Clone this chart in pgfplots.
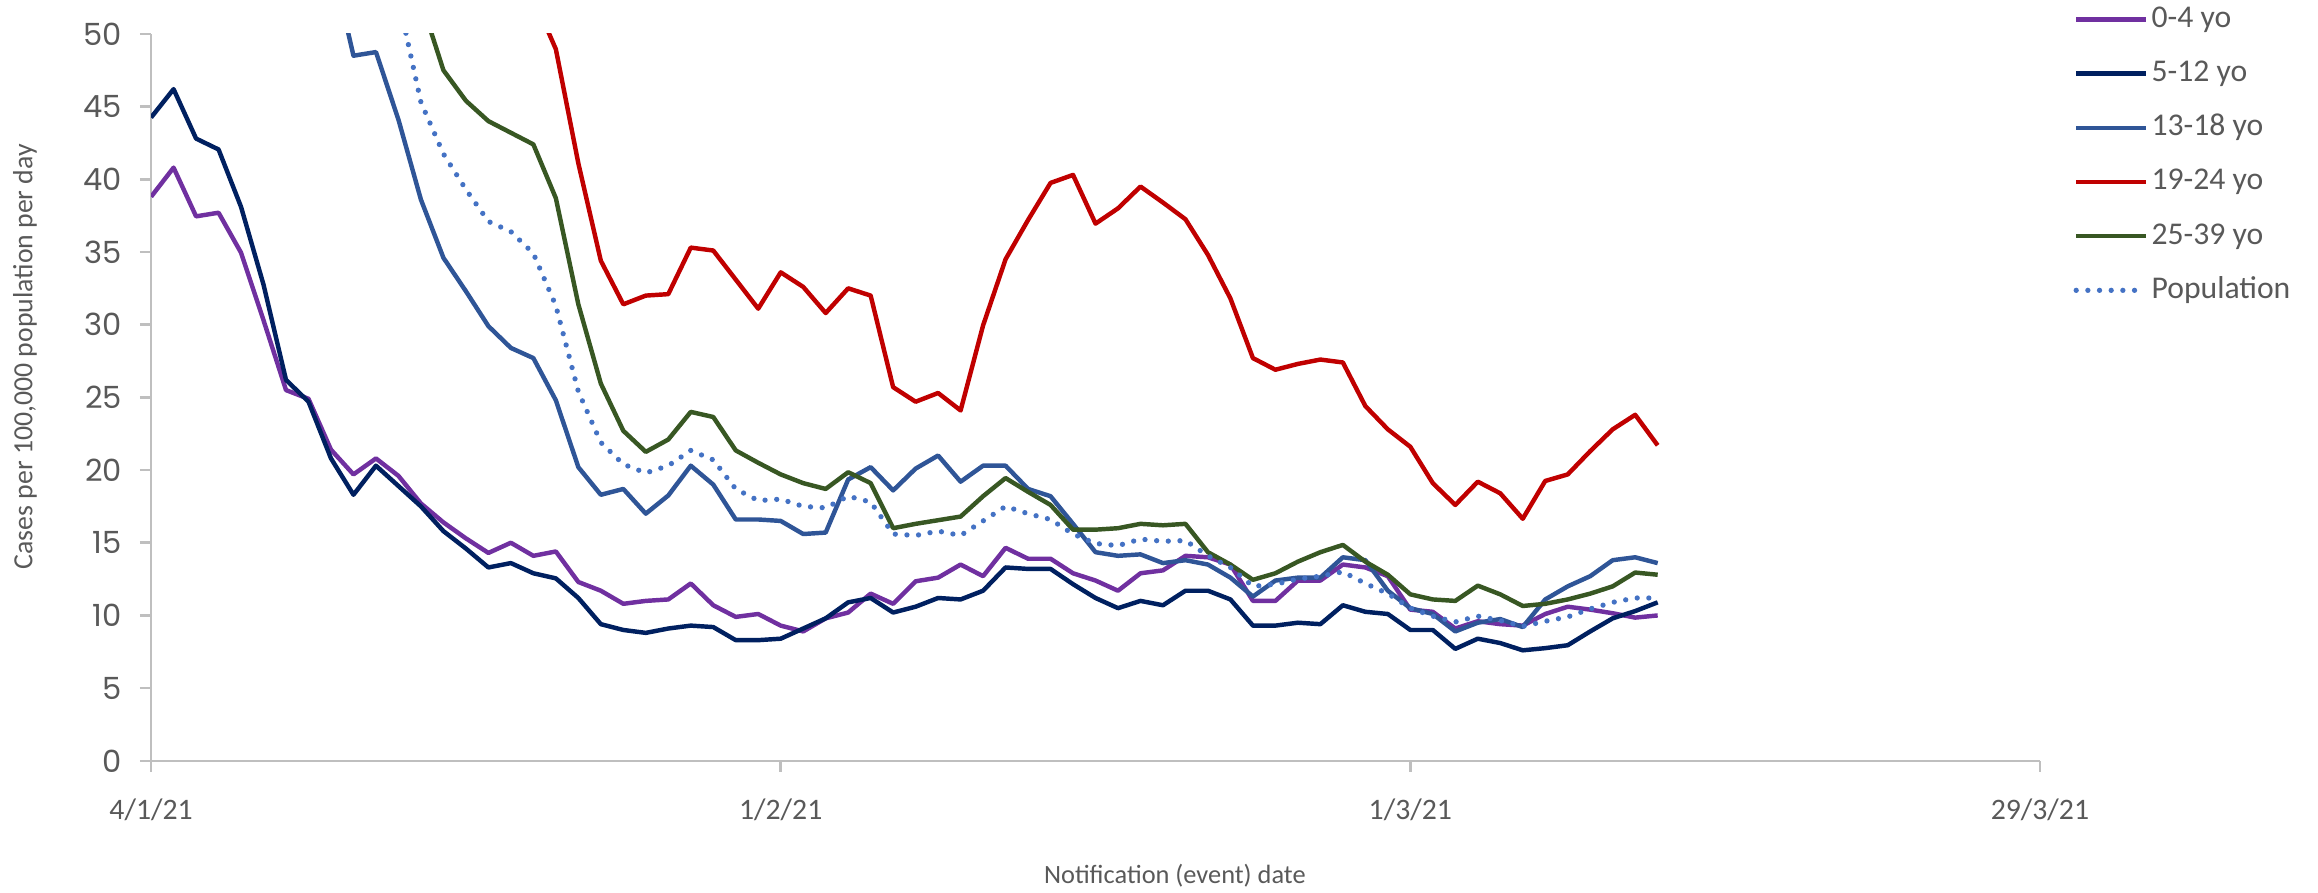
\documentclass[border=0pt]{standalone}
\usepackage{fontspec}
\setmainfont{Carlito}
\newfontfamily\tickfont{Poppins}
\usepackage{pgfplots}
\pgfplotsset{compat=1.18}
\usepackage{pgfplotstable}
\definecolor{cA}{HTML}{7030A0}
\definecolor{cB}{HTML}{002060}
\definecolor{cC}{HTML}{2F5597}
\definecolor{cD}{HTML}{C00000}
\definecolor{cE}{HTML}{385723}
\definecolor{cP}{HTML}{4472C4}
\definecolor{txt}{HTML}{595959}
\definecolor{axgray}{HTML}{BFBFBF}

\pgfplotstableread{
d v
0 38.8
1 40.8
2 37.45
3 37.7
4 34.95
5 30.3
6 25.5
7 24.9
8 21.4
9 19.7
10 20.8
11 19.6
12 17.7
13 16.4
14 15.3
15 14.3
16 15.0
17 14.1
18 14.4
19 12.3
20 11.7
21 10.8
22 11.0
23 11.1
24 12.2
25 10.7
26 9.9
27 10.1
28 9.3
29 8.9
30 9.8
31 10.2
32 11.5
33 10.8
34 12.35
35 12.6
36 13.5
37 12.7
38 14.65
39 13.9
40 13.9
41 12.9
42 12.4
43 11.7
44 12.9
45 13.1
46 14.1
47 14.0
48 13.5
49 11.0
50 11.0
51 12.4
52 12.4
53 13.5
54 13.3
55 12.7
56 10.4
57 10.25
58 9.1
59 9.6
60 9.4
61 9.3
62 10.1
63 10.6
64 10.4
65 10.15
66 9.85
67 10.0
}\tA

\pgfplotstableread{
d v
0 44.25
1 46.2
2 42.8
3 42.05
4 38.1
5 32.75
6 26.2
7 24.7
8 20.8
9 18.3
10 20.3
11 18.9
12 17.5
13 15.8
14 14.6
15 13.3
16 13.6
17 12.9
18 12.55
19 11.2
20 9.4
21 9.0
22 8.8
23 9.1
24 9.3
25 9.2
26 8.3
27 8.3
28 8.4
29 9.1
30 9.8
31 10.9
32 11.2
33 10.2
34 10.6
35 11.2
36 11.1
37 11.7
38 13.3
39 13.2
40 13.2
41 12.15
42 11.2
43 10.5
44 11.0
45 10.7
46 11.7
47 11.7
48 11.1
49 9.3
50 9.3
51 9.5
52 9.4
53 10.7
54 10.25
55 10.1
56 9.0
57 9.0
58 7.7
59 8.4
60 8.1
61 7.6
62 7.75
63 7.95
64 8.9
65 9.8
66 10.3
67 10.9
}\tB

\pgfplotstableread{
d v
8 55.2
9 48.5
10 48.75
11 44.1
12 38.6
13 34.6
14 32.3
15 29.9
16 28.4
17 27.7
18 24.8
19 20.2
20 18.3
21 18.7
22 17.0
23 18.25
24 20.3
25 19.0
26 16.6
27 16.6
28 16.5
29 15.6
30 15.7
31 19.35
32 20.2
33 18.6
34 20.1
35 21.0
36 19.2
37 20.3
38 20.3
39 18.7
40 18.2
41 16.3
42 14.35
43 14.1
44 14.2
45 13.6
46 13.8
47 13.5
48 12.6
49 11.3
50 12.4
51 12.6
52 12.6
53 14.0
54 13.8
55 11.7
56 10.5
57 10.1
58 8.9
59 9.5
60 9.75
61 9.2
62 11.1
63 12.0
64 12.7
65 13.8
66 14.0
67 13.6
}\tC

\pgfplotstableread{
d v
17 52.5
18 48.95
19 41.1
20 34.4
21 31.4
22 32.0
23 32.1
24 35.3
25 35.1
26 33.1
27 31.1
28 33.6
29 32.6
30 30.8
31 32.5
32 32.0
33 25.7
34 24.7
35 25.3
36 24.1
37 29.95
38 34.5
39 37.2
40 39.75
41 40.3
42 36.95
43 38.0
44 39.5
45 38.4
46 37.25
47 34.8
48 31.8
49 27.7
50 26.9
51 27.3
52 27.6
53 27.4
54 24.4
55 22.8
56 21.6
57 19.1
58 17.6
59 19.2
60 18.4
61 16.65
62 19.25
63 19.7
64 21.3
65 22.8
66 23.8
67 21.7
}\tD

\pgfplotstableread{
d v
12 52.3
13 47.5
14 45.4
15 44.0
16 43.2
17 42.4
18 38.7
19 31.4
20 25.95
21 22.7
22 21.25
23 22.1
24 24.0
25 23.65
26 21.35
27 20.5
28 19.7
29 19.1
30 18.7
31 19.85
32 19.1
33 16.0
34 16.3
35 16.55
36 16.8
37 18.2
38 19.45
39 18.5
40 17.6
41 15.9
42 15.9
43 16.0
44 16.3
45 16.2
46 16.3
47 14.35
48 13.5
49 12.45
50 12.9
51 13.7
52 14.35
53 14.85
54 13.7
55 12.8
56 11.45
57 11.1
58 11.0
59 12.05
60 11.45
61 10.65
62 10.8
63 11.1
64 11.5
65 12.0
66 12.95
67 12.8
}\tE

\pgfplotstableread{
d v
11 52.4
12 45.3
13 41.75
14 39.3
15 37.1
16 36.4
17 34.9
18 31.3
19 25.4
20 21.9
21 20.4
22 19.8
23 20.3
24 21.35
25 20.7
26 18.7
27 17.9
28 18.0
29 17.5
30 17.4
31 18.2
32 17.8
33 15.6
34 15.5
35 15.8
36 15.5
37 16.5
38 17.5
39 17.0
40 16.6
41 15.6
42 14.95
43 14.8
44 15.25
45 15.1
46 15.15
47 14.1
48 13.3
49 12.0
50 12.15
51 12.5
52 12.7
53 13.0
54 12.2
55 11.5
56 10.5
57 9.95
58 9.55
59 9.95
60 9.65
61 9.25
62 9.6
63 9.9
64 10.45
65 10.9
66 11.2
67 11.2
}\tP

\begin{document}
\begin{tikzpicture}
\path[use as bounding box] (-54.4pt,-47.5pt) rectangle (780.1pt,273.9pt);
\begin{axis}[
  scale only axis, width=680pt, height=261.7pt,
  xmin=0, xmax=84, ymin=0, ymax=50,
  axis x line=bottom, axis y line=left,
  axis line style={-, draw=axgray, line width=0.9pt},
  tick align=outside, major tick length=4pt,
  tick style={draw=axgray, line width=0.9pt},
  xtick={0,28,56,84},
  xticklabels={4/1/21,1/2/21,1/3/21,29/3/21},
  ytick={0,5,...,50},
  /pgf/number format/assume math mode=true,
  xticklabel style={font=\fontsize{10.7}{12}\selectfont, text=txt, yshift=-6pt},
  yticklabel style={font=\tickfont\fontsize{11}{12}\selectfont, text=txt, xshift=-3pt},
  xlabel={Notification (event) date},
  xlabel style={at={(axis description cs:0.542,-0.1586)}, anchor=center, font=\fontsize{9.5}{11}\selectfont, text=txt},
  ylabel={Cases per 100,000 population per day},
  ylabel style={at={(axis description cs:-0.0668,0.556)}, anchor=center, font=\fontsize{10}{11}\selectfont, text=txt},
  legend cell align=left,
  legend image code/.code={\draw[#1] (0pt,0pt) -- (25pt,0pt);},
  legend style={at={(axis description cs:1.0175,1.041)}, anchor=north west, draw=none, fill=none,
    font=\fontsize{11.4}{13}\selectfont, text=txt, inner sep=0pt, row sep=8.8pt, column sep=1.2pt,
    nodes={inner sep=0pt, text height=8.2pt, text depth=2.5pt}},
  every axis plot/.append style={line width=1.6pt, line join=round, mark=none},
]
\addplot[cA] table[x=d,y=v]{\tA};
\addlegendentry{0-4 yo}
\addplot[cB] table[x=d,y=v]{\tB};
\addlegendentry{5-12 yo}
\addplot[cC] table[x=d,y=v]{\tC};
\addlegendentry{13-18 yo}
\addplot[cD] table[x=d,y=v]{\tD};
\addlegendentry{19-24 yo}
\addplot[cE] table[x=d,y=v]{\tE};
\addlegendentry{25-39 yo}
\addplot[cP, line width=1.9pt, line cap=round, dash pattern=on 0pt off 4.2pt] table[x=d,y=v]{\tP};
\addlegendentry{Population}
\end{axis}
\end{tikzpicture}
\end{document}
